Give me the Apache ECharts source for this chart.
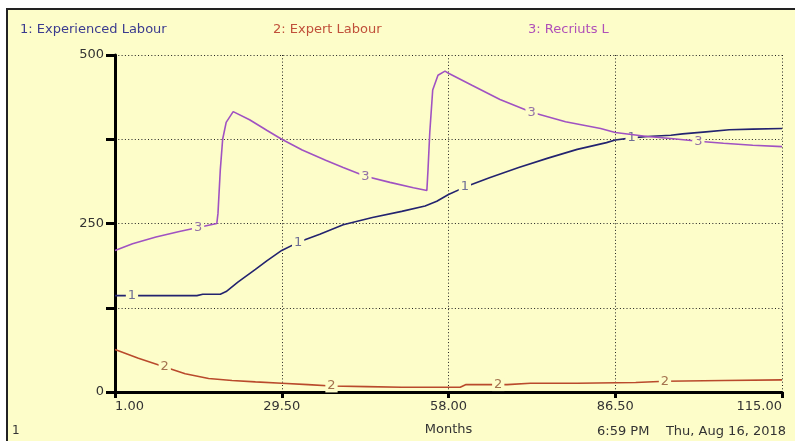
<!DOCTYPE html>
<html>
<head>
<meta charset="utf-8">
<script src="https://cdn.jsdelivr.net/npm/echarts@6/dist/echarts.min.js"></script>
<style>
html,body{margin:0;padding:0;background:#fff;}
#c{width:795px;height:441px;}
</style>
</head>
<body>
<div id="c"></div>
<script>
// ---- data ----
const seriesNames = ['1: Experienced Labour', '2: Expert Labour', '3: Recriuts L'];
const xTickLabels = ['1.00', '29.50', '58.00', '86.50', '115.00'];
const yTickLabels = ['0', '', '250', '', '500'];

const expMonths = [1, 3.9, 8, 12, 15, 16, 19, 20, 22, 25, 27, 29.5, 32.3, 36, 40, 45, 50, 54, 56, 58, 60.8, 65, 70, 75, 80, 85, 86.5, 89.3, 92, 96, 98, 102, 106, 110, 115];
const expValues = [143, 143, 143, 143, 143, 145, 145, 149, 163, 182, 195, 210, 222, 234, 248, 259, 268, 276, 283, 293, 304, 318, 333, 347, 360, 370, 374, 377, 379, 381, 383, 386, 389, 390, 391];
const expLabelMonths = [3.9, 32.3, 60.8, 89.3];

const expertMonths = [1, 5, 9.5, 13, 17, 21, 25, 29.5, 34, 38, 44, 50, 58, 60, 61, 66.5, 68, 72, 80, 90, 95, 105, 115];
const expertValues = [63, 50, 37, 27, 20, 17, 15, 13, 11, 9, 8, 7, 7, 7, 11, 11, 11, 13, 13, 14, 16, 17, 18];
const expertLabelMonths = [9.5, 38, 66.5, 95];

const recMonths = [1, 4, 8, 12, 15.2, 18.4, 18.6, 19, 19.4, 20, 21.2, 24, 27, 29.5, 33, 37, 40, 43.8, 48, 52, 54.3, 54.5, 54.8, 55.3, 56.2, 57.4, 58, 62, 66.8, 72.2, 78, 84, 86.5, 92, 96, 100.7, 105, 110, 115];
const recValues = [210, 220, 230, 238, 244, 250, 265, 330, 375, 400, 416, 404, 388, 375, 359, 344, 333, 320, 311, 303, 299, 330, 385, 448, 470, 476, 473, 455, 434, 415, 401, 391, 385, 379, 376, 372, 369, 366, 364];
const recLabelMonths = [15.2, 43.8, 72.2, 100.7];

const seriesColors = ['#23236f', '#b94a2c', '#a052c2'];
const titleColors = ['#3b3b8f', '#c0503a', '#b050b8'];
const markColors = ['#6f6f95', '#a4734f', '#9472a6'];
const bg = '#fdfdc9';

function build(months, values, labelMonths) {
  return months.map((m, i) => {
    const item = { value: [m, values[i]] };
    if (labelMonths.indexOf(m) >= 0) {
      item.label = { show: true };
    }
    return item;
  });
}

const chart = echarts.init(document.getElementById('c'));
const font = 'DejaVu Sans';

function mkSeries(name, data, idx) {
  return {
    name: name,
    type: 'line',
    data: data,
    showSymbol: true,
    symbol: 'circle',
    symbolSize: 0,
    silent: true,
    z: 3 + idx,
    lineStyle: { color: seriesColors[idx], width: 1.6 },
    itemStyle: { color: seriesColors[idx] },
    label: {
      show: false,
      position: 'inside',
      formatter: String(idx + 1),
      color: markColors[idx],
      fontFamily: font,
      fontSize: 13,
      backgroundColor: bg,
      padding: [0, 2, 0, 2]
    }
  };
}

chart.setOption({
  animation: false,
  backgroundColor: '#ffffff',
  graphic: [
    {
      type: 'rect', z: -10, silent: true,
      shape: { x: 7, y: 9, width: 800, height: 440 },
      style: { fill: bg, stroke: '#222', lineWidth: 2 }
    },
    { type: 'text', left: 20, top: 23, silent: true,
      style: { text: seriesNames[0], fill: titleColors[0], font: '13px "DejaVu Sans"' } },
    { type: 'text', left: 273, top: 23, silent: true,
      style: { text: seriesNames[1], fill: titleColors[1], font: '13px "DejaVu Sans"' } },
    { type: 'text', left: 528, top: 23, silent: true,
      style: { text: seriesNames[2], fill: titleColors[2], font: '13px "DejaVu Sans"' } },
    { type: 'text', left: 12, top: 425, silent: true,
      style: { text: '1', fill: '#333', font: '12px "DejaVu Sans"' } },
    { type: 'text', left: 597, top: 425, silent: true,
      style: { text: '6:59 PM    Thu, Aug 16, 2018', fill: '#333', font: '13px "DejaVu Sans"' } }
  ],
  grid: { left: 115, right: 13, top: 55, bottom: 46, containLabel: false },
  xAxis: {
    type: 'value',
    min: 1, max: 115, interval: 28.5,
    name: 'Months', nameLocation: 'middle', nameGap: 31,
    nameTextStyle: { color: '#333', fontFamily: font, fontSize: 13 },
    axisLine: { lineStyle: { color: '#000', width: 3 } },
    axisTick: { show: true, inside: false, length: 6, lineStyle: { color: '#000', width: 3 } },
    axisLabel: {
      color: '#333', fontFamily: font, fontSize: 13, margin: 8,
      alignMinLabel: 'left', alignMaxLabel: 'right',
      formatter: function (v) {
        const i = Math.round((v - 1) / 28.5);
        return xTickLabels[i] !== undefined ? xTickLabels[i] : '';
      }
    },
    splitLine: { show: true, lineStyle: { color: '#222', width: 1, type: [1, 2.3] } }
  },
  yAxis: {
    type: 'value',
    min: 0, max: 500, interval: 125,
    axisLine: { show: true, lineStyle: { color: '#000', width: 3 } },
    axisTick: { show: true, inside: false, length: 9, lineStyle: { color: '#000', width: 3 } },
    axisLabel: {
      color: '#333', fontFamily: font, fontSize: 13, margin: 11,
      formatter: function (v) {
        const i = Math.round(v / 125);
        return yTickLabels[i] !== undefined ? yTickLabels[i] : '';
      }
    },
    splitLine: { show: true, lineStyle: { color: '#222', width: 1, type: [1, 2.3] } }
  },
  series: [
    mkSeries(seriesNames[0], build(expMonths, expValues, expLabelMonths), 0),
    mkSeries(seriesNames[1], build(expertMonths, expertValues, expertLabelMonths), 1),
    mkSeries(seriesNames[2], build(recMonths, recValues, recLabelMonths), 2)
  ]
});
</script>
</body>
</html>
